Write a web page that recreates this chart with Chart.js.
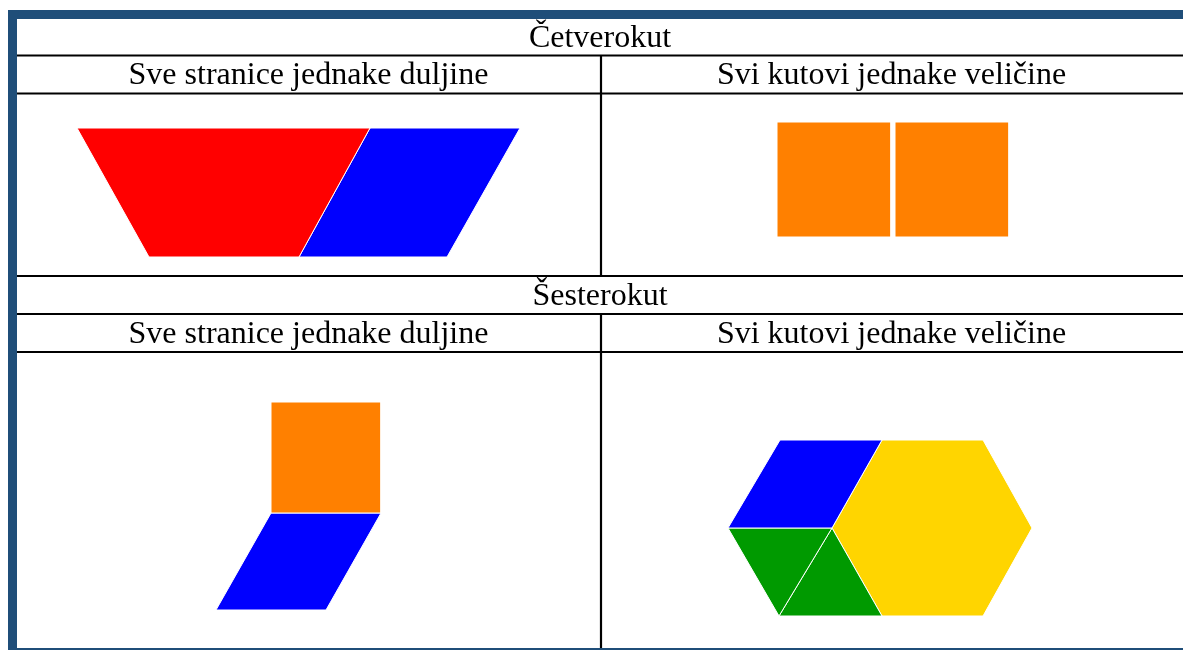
<!DOCTYPE html>
<html>
<head>
<meta charset="utf-8">
<script src="https://cdn.jsdelivr.net/npm/chart.js@4.4.1/dist/chart.umd.min.js"></script>
<style>
  html, body { margin: 0; padding: 0; background: #ffffff; }
  #wrap { position: relative; width: 1183px; height: 650px; }
</style>
</head>
<body>
<div id="wrap"><canvas id="shapesChart"></canvas></div>
<script>
// table texts
const sectionTitles = ['Četverokut', 'Šesterokut'];
const columnTitles = ['Sve stranice jednake duljine', 'Svi kutovi jednake veličine'];

// table rows / columns (in chart units, y grows downwards)
const sectionTitleY = [39, 297];
const columnTitleY = [76, 335];
const columnCenterX = [308.5, 891.5];
const tableCenterX = 600;
const hRuleY = [55.5, 93.5, 276, 314, 352];
const hRuleX = [17, 1183];
const vRuleX = 601;
const vRuleSpans = [[55, 276], [314, 648]];

// frame bands
const frameTop = [[8, 10], [1183, 10], [1183, 19], [8, 19]];
const frameLeft = [[8, 10], [17, 10], [17, 650], [8, 650]];
const frameBottom = [[8, 648], [1183, 648], [1183, 650], [8, 650]];

// shapes: cell 1 (quadrilateral, equal sides)
const redTrapezoid = [[77, 128], [370, 128], [299, 257], [149, 257]];
const blueRhombusA = [[370, 128], [520, 128], [447, 257], [299, 257]];
// cell 2 (quadrilateral, equal angles)
const orangeSquareA = [[777, 122], [891, 122], [891, 237], [777, 237]];
const orangeSquareB = [[895, 122], [1009, 122], [1009, 237], [895, 237]];
// cell 3 (hexagon, equal sides)
const orangeSquareC = [[271, 402], [381, 402], [381, 513], [271, 513]];
const blueRhombusB = [[271, 513], [381, 513], [326, 610], [216, 610]];
// cell 4 (hexagon, equal angles)
const blueRhombusC = [[780, 440], [882, 440], [832, 528], [728, 528]];
const greenTriangleA = [[728, 528], [832, 528], [779, 616]];
const greenTriangleB = [[832, 528], [882, 616], [779, 616]];
const yellowHexagon = [[882, 440], [983, 440], [1032, 528], [983, 616], [882, 616], [832, 528]];

const frameColor = '#1F4E79';
const colors = {
    red: '#FF0000',
    blue: '#0000FF',
    orange: '#FF8000',
    green: '#009A00',
    yellow: '#FFD500'
};

function polygon(points, color, edge) {
    const data = points.map(p => ({ x: p[0], y: p[1] }));
    data.push({ x: points[0][0], y: points[0][1] }); // close the shape
    return {
        data: data,
        showLine: true,
        fill: 'shape',
        backgroundColor: color,
        borderColor: edge || color,
        borderWidth: edge ? 1 : 0,
        pointRadius: 0,
        tension: 0
    };
}

function rule(points) {
    return {
        data: points.map(p => ({ x: p[0], y: p[1] })),
        showLine: true,
        fill: false,
        borderColor: '#000000',
        borderWidth: 2.2,
        borderCapStyle: 'butt',
        pointRadius: 0
    };
}

const datasets = [];
datasets.push(polygon(frameTop, frameColor));
datasets.push(polygon(frameLeft, frameColor));
datasets.push(polygon(frameBottom, frameColor));

datasets.push(polygon(redTrapezoid, colors.red, '#ffffff'));
datasets.push(polygon(blueRhombusA, colors.blue, '#ffffff'));
datasets.push(polygon(orangeSquareA, colors.orange, '#ffffff'));
datasets.push(polygon(orangeSquareB, colors.orange, '#ffffff'));
datasets.push(polygon(orangeSquareC, colors.orange, '#ffffff'));
datasets.push(polygon(blueRhombusB, colors.blue, '#ffffff'));
datasets.push(polygon(blueRhombusC, colors.blue, '#ffffff'));
datasets.push(polygon(greenTriangleA, colors.green, '#ffffff'));
datasets.push(polygon(greenTriangleB, colors.green, '#ffffff'));
datasets.push(polygon(yellowHexagon, colors.yellow, '#ffffff'));

hRuleY.forEach(y => datasets.push(rule([[hRuleX[0], y], [hRuleX[1], y]])));
vRuleSpans.forEach(s => datasets.push(rule([[vRuleX, s[0]], [vRuleX, s[1]]])));

// draws the header texts at their table positions
const tableText = {
    id: 'tableText',
    afterDatasetsDraw(chart) {
        const ctx = chart.ctx;
        const xs = chart.scales.x;
        const ys = chart.scales.y;
        ctx.save();
        ctx.fillStyle = '#000000';
        ctx.font = '32px "Liberation Serif", "Times New Roman", serif';
        ctx.textAlign = 'center';
        ctx.textBaseline = 'middle';
        sectionTitles.forEach((t, i) => {
            ctx.fillText(t, xs.getPixelForValue(tableCenterX), ys.getPixelForValue(sectionTitleY[i]));
            columnTitles.forEach((c, j) => {
                ctx.fillText(c, xs.getPixelForValue(columnCenterX[j]), ys.getPixelForValue(columnTitleY[i]));
            });
        });
        ctx.restore();
    }
};

const ctx = document.getElementById('shapesChart').getContext('2d');
const shapesChart = new Chart(ctx, {
    type: 'scatter',
    data: { datasets: datasets },
    options: {
        responsive: true,
        maintainAspectRatio: false,
        animation: false,
        layout: { padding: 0 },
        scales: {
            x: { type: 'linear', min: 0, max: 1183, display: false },
            y: { type: 'linear', min: 0, max: 650, reverse: true, display: false }
        },
        plugins: {
            legend: { display: false },
            tooltip: { enabled: false }
        }
    },
    plugins: [tableText]
});
</script>
</body>
</html>
